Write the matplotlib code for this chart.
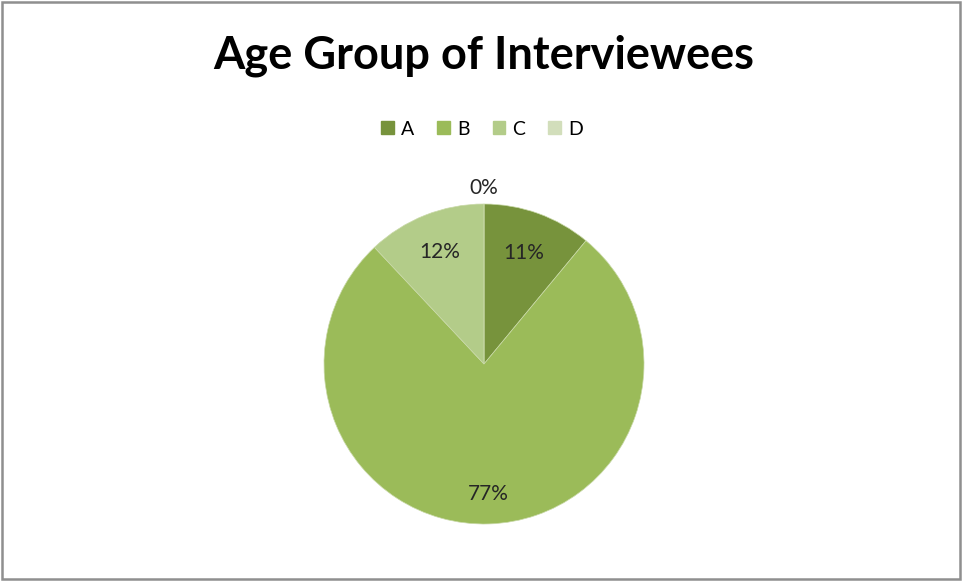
import matplotlib.pyplot as plt
import numpy as np
from matplotlib.patches import Rectangle

# Age group shares of interviewees
groups = ["A", "B", "C", "D"]
shares = [11, 77, 12, 0]
colors = ["#77933C", "#9BBB59", "#B3CC89", "#D2DEBB"]
label_radius = [0.74, 0.81, 0.75, 1.10]

plt.rcParams['font.family'] = ['Lato', 'DejaVu Sans']

fig = plt.figure(figsize=(9.63, 5.81), dpi=100)
fig.patch.set_facecolor("white")
fig.patches.append(Rectangle((0.002, 0.003), 0.995, 0.993, transform=fig.transFigure,
                             fill=False, edgecolor="#8f8f8f", linewidth=1.8))

W, H = 963, 581
cx, cy, r = 484, 364, 160
ax = fig.add_axes([(cx - r) / W, (H - cy - r) / H, 2 * r / W, 2 * r / H])
wedges, _ = ax.pie(shares, colors=colors, startangle=90, counterclock=False,
                   radius=1.0, wedgeprops=dict(linewidth=0.5, edgecolor="#c9d9a8"))
ax.set_aspect("equal")
ax.set_xlim(-1, 1)
ax.set_ylim(-1, 1)
ax.axis("off")

for w, v, rr in zip(wedges, shares, label_radius):
    ang = np.deg2rad((w.theta1 + w.theta2) / 2)
    ax.text(rr * np.cos(ang), rr * np.sin(ang), f"{v}%", ha="center", va="center",
            fontsize=15, color="#262626", clip_on=False)

fig.text(cx / W, 1 - 56 / H, "Age Group of Interviewees", ha="center", va="center",
         fontsize=32.5, fontweight="bold", color="black")

handles = [Rectangle((0, 0), 1, 1, color=c) for c in colors]
fig.legend(handles, groups, loc="center", bbox_to_anchor=(482 / W, 1 - 129 / H),
           ncol=4, frameon=False, fontsize=14, handlelength=0.65, handleheight=0.65,
           handletextpad=0.35, columnspacing=1.2)

fig.savefig("out.png", dpi=100)
